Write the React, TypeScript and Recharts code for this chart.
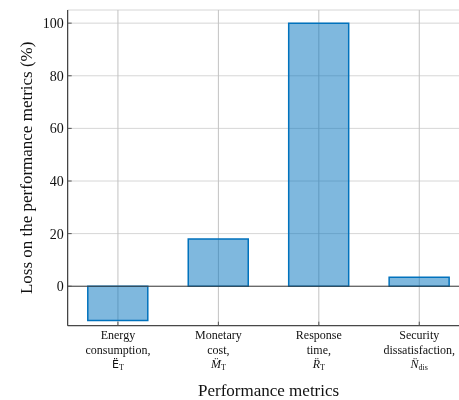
import React from "react";
import { BarChart, Bar, XAxis, YAxis, CartesianGrid, ReferenceLine } from "recharts";

const categories = ["Energy consumption", "Monetary cost", "Response time", "Security dissatisfaction"];
const lossValues = [-13, 18, 100, 3.4];
const yTicks = [0, 20, 40, 60, 80, 100];
const tickLines: Record<string, string[]> = {
  "Energy consumption": ["Energy", "consumption,"],
  "Monetary cost": ["Monetary", "cost,"],
  "Response time": ["Response", "time,"],
  "Security dissatisfaction": ["Security", "dissatisfaction,"],
};
const symbols: Record<string, { base: string; sub: string; italic: boolean; sans: boolean }> = {
  "Energy consumption": { base: "E\u0308", sub: "T", italic: false, sans: true },
  "Monetary cost": { base: "M\u0308", sub: "T", italic: true, sans: false },
  "Response time": { base: "R\u0308", sub: "T", italic: true, sans: false },
  "Security dissatisfaction": { base: "N\u0308", sub: "dis", italic: true, sans: false },
};

const data = categories.map((c, i) => ({ name: c, loss: lossValues[i] }));

const SERIF = "Liberation Serif";
const SANS = "DejaVu Sans";

const XTick = (props: any) => {
  const { x, y, payload } = props;
  const lines = tickLines[payload.value] || [payload.value];
  const sym = symbols[payload.value];
  return (
    <g>
      {lines.map((l, i) => (
        <text key={i} x={x} y={y + 13.6 + i * 14.5} textAnchor="middle" fontFamily={SERIF} fontSize={12} fill="#111">
          {l}
        </text>
      ))}
      {sym && (
        <text x={x} y={y + 13.6 + 2 * 14.5} textAnchor="middle" fill="#111" fontFamily={SERIF} fontSize={12}>
          <tspan fontFamily={sym.sans ? SANS : SERIF} fontStyle={sym.italic ? "italic" : "normal"} fontSize={sym.sans ? 11 : 12}>
            {sym.base}
          </tspan>
          <tspan fontFamily={SERIF} fontSize={8} dy={2}>
            {sym.sub}
          </tspan>
        </text>
      )}
    </g>
  );
};

const YTick = (props: any) => {
  const { x, y, payload } = props;
  return (
    <text x={x} y={y} dy="0.35em" textAnchor="end" fontFamily={SERIF} fontSize={14} fill="#111">
      {payload.value}
    </text>
  );
};

const YLabel = (props: any) => {
  const { viewBox } = props;
  const cy = viewBox.y + viewBox.height / 2;
  const cx = 18.5;
  return (
    <text x={cx} y={cy} transform={`rotate(-90, ${cx}, ${cy})`} textAnchor="middle" dy="0.35em" fontFamily={SERIF} fontSize={17} fill="#111">
      Loss on the performance metrics (%)
    </text>
  );
};

const XLabel = (props: any) => {
  const { viewBox } = props;
  const cx = viewBox.x + viewBox.width / 2;
  return (
    <text x={cx} y={388} textAnchor="middle" fontFamily={SERIF} fontSize={17} fill="#111">
      Performance metrics
    </text>
  );
};

const Empty = () => <g />;

export default function App() {
  return (
    <div style={{ position: "fixed", left: 8, top: 8, width: 451, height: 392, overflow: "hidden" }}>
      <BarChart
        width={470}
        height={392}
        data={data}
        margin={{ top: 2, right: 8.5, bottom: 14.3, left: 0 }}
        barCategoryGap="20%"
      >
        <CartesianGrid horizontal={true} vertical={false} stroke="#d6d6d6" strokeWidth={1} />
        <CartesianGrid horizontal={false} vertical={true} stroke="#c2c2c2" strokeWidth={1} />
        <XAxis
          dataKey="name"
          height={60}
          axisLine={{ stroke: "#262626", strokeWidth: 1 }}
          tickLine={{ stroke: "#555", strokeWidth: 1 }}
          tickSize={-4}
          tickMargin={4}
          tick={<XTick />}
          interval={0}
          label={<XLabel />}
        />
        <XAxis
          xAxisId="top"
          dataKey="name"
          orientation="top"
          height={0}
          axisLine={{ stroke: "#262626", strokeWidth: 1 }}
          tickLine={{ stroke: "#555", strokeWidth: 1 }}
          tickSize={-4}
          tick={<Empty />}
          interval={0}
        />
        <YAxis
          type="number"
          domain={[-15, 105]}
          ticks={yTicks}
          width={59.7}
          axisLine={{ stroke: "#262626", strokeWidth: 1 }}
          tickLine={{ stroke: "#555", strokeWidth: 1 }}
          tickSize={-4}
          tickMargin={8}
          tick={<YTick />}
          allowDataOverflow={true}
          label={<YLabel />}
        />
        <Bar dataKey="loss" fill="#0072bd" fillOpacity={0.5} stroke="#0072bd" strokeWidth={1.5} isAnimationActive={false} />
        <ReferenceLine y={0} stroke="#404040" strokeWidth={1} />
      </BarChart>
    </div>
  );
}
